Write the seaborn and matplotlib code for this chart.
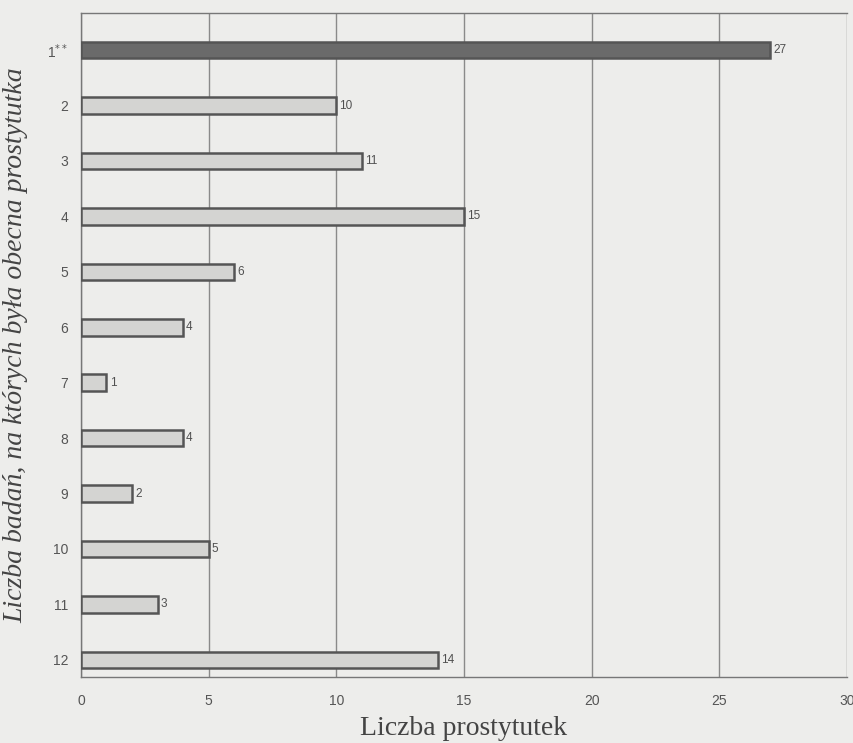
import numpy as np
import pandas as pd
import matplotlib.pyplot as plt
import seaborn as sns

# data
studies = ["1$^{**}$", "2", "3", "4", "5", "6", "7", "8", "9", "10", "11", "12"]
counts = [27, 10, 11, 15, 6, 4, 1, 4, 2, 5, 3, 14]
xticks = [0, 5, 10, 15, 20, 25, 30]

df = pd.DataFrame({"study": studies, "count": counts})

sns.set_style("white")
bg = "#ededeb"
plt.rcParams["font.family"] = ["Liberation Sans", "DejaVu Sans"]

fig = plt.figure(figsize=(8.54, 7.43), dpi=100, facecolor=bg)
ax = fig.add_axes([0.0948, 0.0888, 0.897, 0.8937])
ax.set_facecolor(bg)

palette = ["#6a6a6a"] + ["#d4d4d2"] * (len(studies) - 1)
sns.barplot(data=df, y="study", x="count", hue="study", palette=palette,
            orient="h", width=0.3, legend=False, ax=ax,
            edgecolor="#555555", linewidth=1.8, zorder=3)

ax.set_xlim(0, 30)
ax.set_ylim(11.31, -0.67)
ax.set_xticks(xticks)
ax.set_xticklabels([str(t) for t in xticks])
ax.xaxis.grid(True, color="#8a8a8a", linewidth=1.0, zorder=0)
ax.tick_params(axis="both", labelsize=10, colors="#555555", length=0)
ax.tick_params(axis="x", pad=12)
ax.tick_params(axis="y", pad=9)

for s in ["top", "left", "bottom"]:
    ax.spines[s].set_color("#777777")
    ax.spines[s].set_linewidth(1.0)
ax.spines["right"].set_visible(False)

for i, v in enumerate(counts):
    ax.text(v + 0.12, i, str(v), va="center", ha="left", fontsize=8.5,
            color="#505050", zorder=4)

ax.set_xlabel("Liczba prostytutek", family="Liberation Serif", fontsize=20,
              color="#444444", labelpad=6)
ax.set_ylabel("Liczba badań, na których była obecna prostytutka",
              family="Liberation Serif", style="italic", fontsize=20,
              color="#444444", labelpad=14)

fig.savefig("out.png", dpi=100, facecolor=bg)
